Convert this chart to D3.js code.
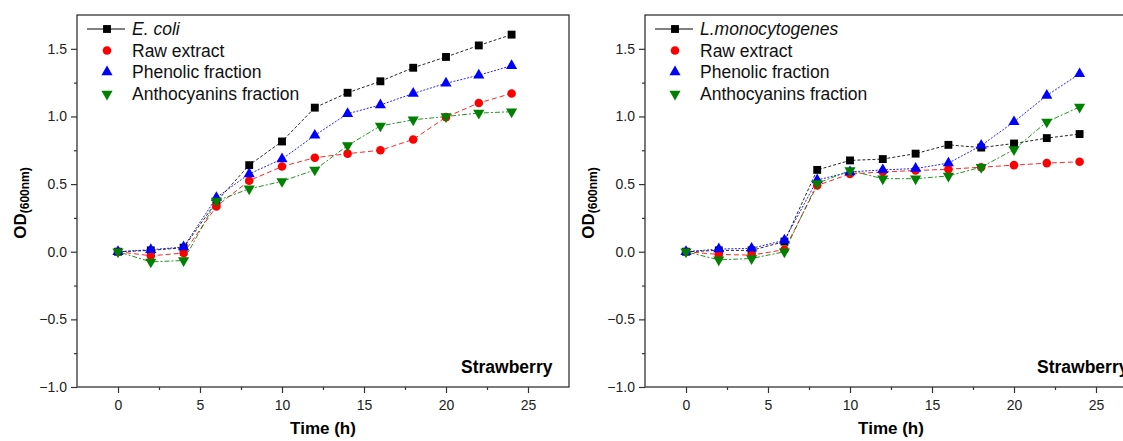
<!DOCTYPE html>
<html>
<head>
<meta charset="utf-8">
<script src="https://cdn.jsdelivr.net/npm/d3@7/dist/d3.min.js"></script>
<style>
  html, body { margin: 0; padding: 0; background: #fff; }
  svg { display: block; font-family: "Liberation Sans", Arial, sans-serif; }
</style>
</head>
<body>
<svg id="chart" width="1123" height="441"></svg>
<script>
// ---- Data ----
const time = [0, 2, 4, 6, 8, 10, 12, 14, 16, 18, 20, 22, 24];

// Left panel: E. coli
const ecoliControl   = [0, 0.01, 0.03, 0.37, 0.64, 0.815, 1.065, 1.175, 1.26, 1.36, 1.44, 1.525, 1.605];
const ecoliRaw       = [0, -0.03, -0.01, 0.335, 0.525, 0.63, 0.695, 0.725, 0.75, 0.83, 0.995, 1.10, 1.17];
const ecoliPhenolic  = [0, 0.015, 0.035, 0.40, 0.575, 0.685, 0.86, 1.02, 1.085, 1.17, 1.245, 1.305, 1.375];
const ecoliAntho     = [0, -0.075, -0.065, 0.375, 0.465, 0.52, 0.605, 0.785, 0.93, 0.975, 1.0, 1.025, 1.035];

// Right panel: L. monocytogenes
const listControl    = [0, 0.01, 0.01, 0.075, 0.605, 0.675, 0.685, 0.725, 0.79, 0.77, 0.80, 0.84, 0.87];
const listRaw        = [0, -0.02, -0.025, 0.015, 0.49, 0.575, 0.59, 0.60, 0.61, 0.625, 0.64, 0.655, 0.665];
const listPhenolic   = [0, 0.02, 0.025, 0.085, 0.53, 0.59, 0.605, 0.615, 0.655, 0.785, 0.96, 1.155, 1.315];
const listAntho      = [0, -0.06, -0.05, 0.0, 0.505, 0.60, 0.54, 0.54, 0.56, 0.625, 0.755, 0.96, 1.07];

const seriesNames   = ["Raw extract", "Phenolic fraction", "Anthocyanins fraction"];
const organisms     = ["E. coli", "L.monocytogenes"];
const xTicks        = [0, 5, 10, 15, 20, 25];
const xMinorTicks   = [2.5, 7.5, 12.5, 17.5, 22.5];
const yTicks        = [-1.0, -0.5, 0.0, 0.5, 1.0, 1.5];
const yMinorTicks   = [-0.75, -0.25, 0.25, 0.75, 1.25];
const panelTag      = "Strawberry";

// ---- Styles ----
const styles = [
  { color: "#000000", symbol: d3.symbolSquare,   size: 62, dash: "3,2" },
  { color: "#ff0000", symbol: d3.symbolCircle,   size: 58, dash: "5,3" },
  { color: "#0000ff", symbol: d3.symbolTriangle, size: 54, dash: "2,1.5" },
  { color: "#008000", symbol: d3.symbolTriangle, size: 54, dash: "2,2,5,2", flip: true }
];

const panels = [
  { left: 77,  tagX: 384, name: organisms[0], data: [ecoliControl, ecoliRaw, ecoliPhenolic, ecoliAntho] },
  { left: 645, tagX: 392, name: organisms[1], data: [listControl, listRaw, listPhenolic, listAntho] }
];

const W = 492, plotTop = 15, plotBottom = 387;
const svg = d3.select("#chart");
const fmt = d3.format(".1f");

panels.forEach(p => {
  const x = d3.scaleLinear().domain([-2.5, 27.5]).range([p.left, p.left + W]);
  const y = d3.scaleLinear().domain([-1, 1.75]).range([plotBottom, plotTop]);
  const g = svg.append("g");

  // frame
  g.append("rect").attr("x", p.left).attr("y", plotTop).attr("width", W).attr("height", plotBottom - plotTop)
    .attr("fill", "none").attr("stroke", "#333").attr("stroke-width", 1.3);

  // axes
  const xa = g.append("g").attr("transform", `translate(0,${plotBottom})`)
    .call(d3.axisBottom(x).tickValues(xTicks).tickSize(6).tickPadding(7).tickFormat(d3.format("d")));
  const xm = g.append("g").attr("transform", `translate(0,${plotBottom})`)
    .call(d3.axisBottom(x).tickValues(xMinorTicks).tickSize(3).tickFormat(""));
  const ya = g.append("g").attr("transform", `translate(${p.left},0)`)
    .call(d3.axisLeft(y).tickValues(yTicks).tickSize(6).tickPadding(4).tickFormat(fmt));
  const ym = g.append("g").attr("transform", `translate(${p.left},0)`)
    .call(d3.axisLeft(y).tickValues(yMinorTicks).tickSize(3).tickFormat(""));
  [xa, xm, ya, ym].forEach(a => {
    a.select(".domain").remove();
    a.selectAll("line").attr("stroke", "#333").attr("stroke-width", 1.2);
    a.selectAll("text").attr("font-size", 14).attr("fill", "#222")
      .attr("font-family", '"Liberation Sans", Arial, sans-serif');
  });

  // axis titles
  g.append("text").attr("x", p.left + W / 2).attr("y", 434).attr("text-anchor", "middle")
    .attr("font-size", 17).attr("font-weight", "bold").text("Time (h)");
  const yl = g.append("text")
    .attr("transform", `translate(${p.left - 51},${(plotTop + plotBottom) / 2 + 2}) rotate(-90)`)
    .attr("text-anchor", "middle").attr("font-weight", "bold");
  yl.append("tspan").attr("font-size", 17).text("OD");
  yl.append("tspan").attr("font-size", 12).attr("dy", 3).text("(600nm)");

  // tag
  g.append("text").attr("x", p.left + p.tagX).attr("y", 373).attr("text-anchor", "start")
    .attr("font-size", 17.5).attr("font-weight", "bold").text(panelTag);

  // lines
  const line = d3.line().x((d, i) => x(time[i])).y(d => y(d));
  p.data.forEach((vals, si) => {
    g.append("path").datum(vals).attr("d", line).attr("fill", "none")
      .attr("stroke", styles[si].color).attr("stroke-width", 1)
      .attr("stroke-dasharray", styles[si].dash).attr("opacity", 0.85);
  });
  // markers
  p.data.forEach((vals, si) => {
    const s = styles[si];
    g.append("g").selectAll("path").data(vals).join("path")
      .attr("d", d3.symbol().type(s.symbol).size(s.size))
      .attr("transform", (d, i) => `translate(${x(time[i])},${y(d)})${s.flip ? " rotate(180)" : ""}`)
      .attr("fill", s.color);
  });

  // legend
  const rowsY = [29, 50.5, 72, 94];
  const labels = [p.name].concat(seriesNames);
  labels.forEach((lab, i) => {
    const s = styles[i];
    const cy = rowsY[i];
    if (i === 0) {
      g.append("line").attr("x1", p.left + 10).attr("x2", p.left + 48)
        .attr("y1", cy).attr("y2", cy).attr("stroke", "#000").attr("stroke-width", 1);
    }
    g.append("path").attr("d", d3.symbol().type(s.symbol).size(s.size))
      .attr("transform", `translate(${p.left + 30},${cy})${s.flip ? " rotate(180)" : ""}`)
      .attr("fill", s.color);
    g.append("text").attr("x", p.left + 55).attr("y", cy + 6.3)
      .attr("font-size", 17.5).attr("fill", "#111")
      .attr("font-style", i === 0 ? "italic" : "normal").text(lab);
  });
});
</script>
</body>
</html>
